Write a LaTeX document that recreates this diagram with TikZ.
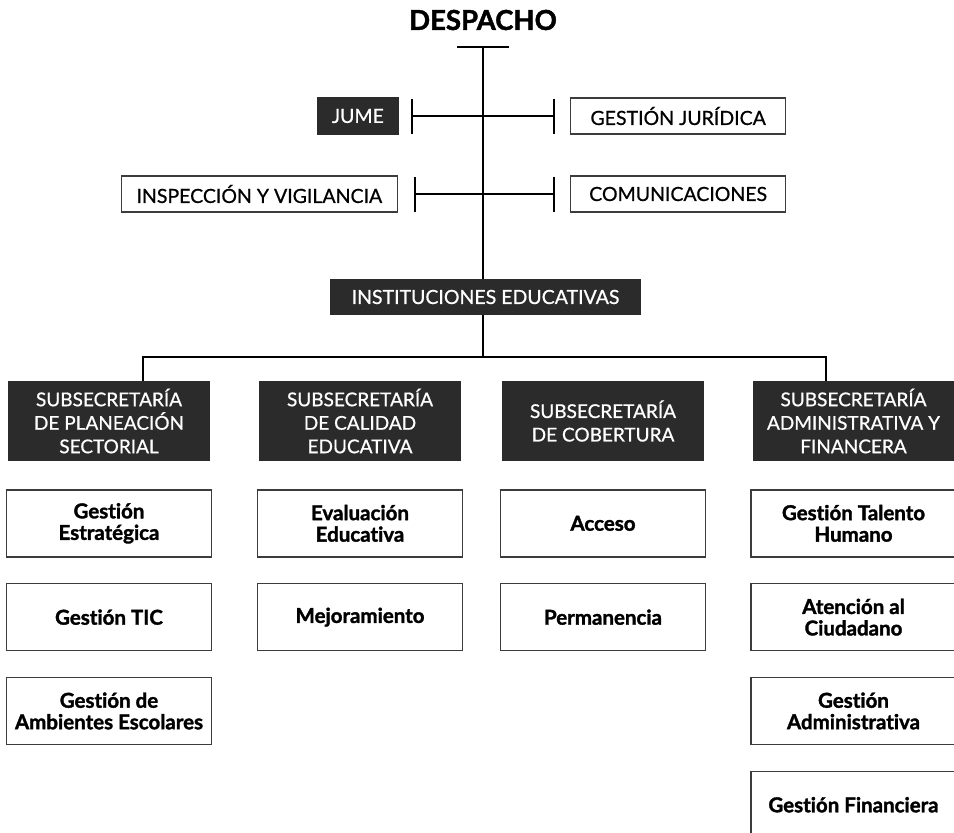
\documentclass[tikz,border=0pt]{standalone}
\usepackage{fontspec}
\setmainfont{Lato}[Ligatures=NoCommon, BoldFeatures={FakeBold=1.6}]
\newfontfamily\capsfont{Lato}[FakeBold=0.7]
\usetikzlibrary{positioning,arrows.meta}
\definecolor{boxdark}{HTML}{2B2B2B}
\definecolor{boxline}{HTML}{3C3C3C}

\begin{document}
\begin{tikzpicture}[
    x=1pt, y=-1pt,
    node distance=25.5pt,
    subsec/.style={rectangle, fill=boxdark, text=white, minimum width=202pt, minimum height=80pt, align=center, font=\capsfont\fontsize{19}{23.5}\selectfont, inner sep=0pt},
    office/.style={rectangle, draw=boxline, line width=1.3pt, minimum height=36pt, align=center, font=\capsfont\fontsize{19.5}{22}\selectfont, inner sep=0pt},
    darkoffice/.style={office, draw=boxdark, fill=boxdark, text=white},
    area/.style={rectangle, draw=boxline, line width=1.3pt, fill=white, minimum width=205pt, minimum height=67pt, align=center, font=\bfseries\fontsize{20.5}{21.5}\selectfont, inner sep=0pt},
    link/.style={line width=2.4pt, black},
    brackets/.style={{Bar[width=35pt]}-{Bar[width=35pt]}}
]
\useasboundingbox (0,0) rectangle (954,833);

\node[font=\bfseries\fontsize{27.5}{30}\selectfont] (despacho) at (483,20) {DESPACHO};
\coordinate (spine) at (483,46);
\coordinate (bus) at (483,357);

% staff offices
\node[darkoffice, minimum width=81pt, anchor=east] (jume) at (399,116) {JUME};
\node[office, minimum width=215pt, anchor=west] (juridica) at (570,116) {GESTIÓN JURÍDICA};
\node[office, minimum width=276pt, anchor=east] (inspeccion) at (398,194) {INSPECCIÓN Y VIGILANCIA};
\node[office, minimum width=215pt, anchor=west] (comunicaciones) at (570,194) {COMUNICACIONES};
\node[darkoffice, minimum width=309pt, minimum height=34pt] (inst) at (485.5,297) {INSTITUCIONES EDUCATIVAS};

% subsecretarias
\node[subsec] (plan) at (109,421) {SUBSECRETARÍA\\DE PLANEACIÓN\\SECTORIAL};
\node[subsec] (calidad) at (360,421) {SUBSECRETARÍA\\DE CALIDAD\\EDUCATIVA};
\node[subsec] (cobertura) at (603,421) {SUBSECRETARÍA\\DE COBERTURA};
\node[subsec] (admin) at (853.5,421) {SUBSECRETARÍA\\ADMINISTRATIVA Y\\FINANCERA};

% areas
\node[area, below=28pt of plan] (estrategica) {Gestión\\Estratégica};
\node[area, below=of estrategica] (tic) {Gestión TIC};
\node[area, below=of tic] (ambientes) {Gestión de\\Ambientes Escolares};
\node[area, below=28pt of calidad] (evaluacion) {Evaluación\\Educativa};
\node[area, below=of evaluacion] (mejoramiento) {Mejoramiento};
\node[area, below=28pt of cobertura] (acceso) {Acceso};
\node[area, below=of acceso] (permanencia) {Permanencia};
\node[area, below=28pt of admin] (talento) {Gestión Talento\\Humano};
\node[area, below=of talento] (ciudadano) {Atención al\\Ciudadano};
\node[area, below=of ciudadano] (administrativa) {Gestión\\Administrativa};
\node[area, below=of administrativa] (financiera) {Gestión Financiera};

% connectors
\draw[link, {Bar[width=52pt]}-] (spine) -- (spine |- inst.north);
\draw[link, brackets] ([xshift=12pt]jume.east) -- ([xshift=-15pt]juridica.west);
\draw[link, brackets] ([xshift=16pt]inspeccion.east) -- ([xshift=-15pt]comunicaciones.west);
\draw[link] (bus |- inst.south) -- (bus);
\draw[link] ([xshift=34pt]plan.north) |- (bus) -| ([xshift=-27.5pt]admin.north);
\end{tikzpicture}
\end{document}
